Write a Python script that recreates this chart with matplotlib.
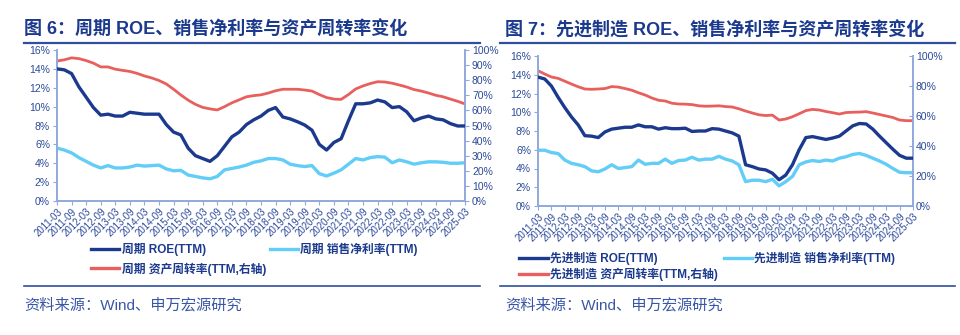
import matplotlib
matplotlib.use("Agg")
import matplotlib.pyplot as plt
from matplotlib.lines import Line2D
from matplotlib.ticker import FuncFormatter, MultipleLocator
import numpy as np
import pandas as pd

plt.rcParams["font.family"] = ["Liberation Sans", "Noto Sans CJK SC"]

# quarterly, 2011-03 .. 2025-03
quarters = pd.period_range("2011Q1", "2025Q1", freq="Q")
tick_labels = [f"{q.year}-{q.quarter * 3:02d}" for q in quarters]

# 周期
cyc_roe = [14.0, 13.9, 13.5, 12.1, 11.0, 9.9, 9.1, 9.2, 9.0, 9.0, 9.4, 9.3, 9.2, 9.2, 9.2,
           8.1, 7.3, 7.0, 5.6, 4.8, 4.5, 4.2, 4.8, 5.8, 6.8, 7.3, 8.1, 8.6, 9.0, 9.6,
           9.9, 8.9, 8.7, 8.4, 8.05, 7.5, 6.0, 5.4, 6.2, 6.6, 8.5, 10.3, 10.3, 10.4, 10.7,
           10.5, 9.9, 10.0, 9.45, 8.5, 8.8, 9.0, 8.7, 8.6, 8.2, 7.95, 7.95]
cyc_margin = [5.6, 5.4, 5.1, 4.6, 4.2, 3.8, 3.5, 3.75, 3.5, 3.5, 3.6, 3.8, 3.7, 3.75, 3.8,
              3.4, 3.2, 3.25, 2.75, 2.6, 2.45, 2.35, 2.6, 3.3, 3.45, 3.6, 3.8, 4.1, 4.25, 4.5,
              4.5, 4.35, 3.9, 3.75, 3.65, 3.75, 2.9, 2.65, 2.95, 3.3, 3.9, 4.5, 4.35, 4.6, 4.7,
              4.65, 4.05, 4.35, 4.15, 3.9, 4.05, 4.15, 4.15, 4.1, 4.0, 4.0, 4.05]
cyc_turnover = [92.7, 93.5, 94.8, 94.3, 93.0, 91.3, 88.8, 88.8, 87.3, 86.5, 85.8, 84.5, 82.8,
                81.5, 79.8, 77.5, 74.0, 70.2, 66.8, 64.0, 62.0, 61.0, 60.3, 62.5, 65.0, 67.0,
                69.0, 69.8, 70.3, 71.5, 73.0, 74.0, 74.0, 74.0, 73.5, 72.8, 70.5, 68.5, 67.5,
                67.3, 70.5, 74.2, 76.2, 77.8, 79.0, 78.8, 78.0, 76.8, 75.5, 73.8, 72.8, 71.5,
                70.0, 69.0, 67.5, 66.0, 64.3]

# 先进制造
adv_roe = [13.75, 13.55, 12.8, 11.6, 10.5, 9.5, 8.65, 7.5, 7.45, 7.3, 7.9, 8.2, 8.3, 8.4, 8.4,
           8.65, 8.45, 8.45, 8.2, 8.35, 8.25, 8.25, 8.3, 7.95, 8.0, 8.0, 8.25, 8.2, 8.0, 7.8,
           7.45, 4.4, 4.2, 3.95, 3.85, 3.5, 2.8, 3.3, 4.4, 6.0, 7.3, 7.4, 7.25, 7.1, 7.25,
           7.45, 8.0, 8.55, 8.8, 8.75, 8.2, 7.45, 6.75, 6.05, 5.4, 5.1, 5.1]
adv_margin = [5.95, 5.95, 5.7, 5.6, 4.9, 4.55, 4.4, 4.2, 3.75, 3.65, 3.95, 4.4, 4.0, 4.1, 4.2,
              4.9, 4.45, 4.55, 4.55, 5.0, 4.55, 4.85, 4.9, 5.2, 4.9, 5.0, 5.0, 5.3, 5.0, 4.8,
              4.4, 2.6, 2.75, 2.75, 2.6, 2.85, 2.15, 2.6, 3.15, 4.4, 4.7, 4.85, 4.75, 4.9, 4.8,
              5.1, 5.25, 5.5, 5.6, 5.4, 5.1, 4.8, 4.45, 4.0, 3.6, 3.55, 3.55]
adv_turnover = [90.2, 88.0, 86.0, 85.1, 83.2, 81.3, 79.5, 78.0, 77.8, 78.0, 78.3, 79.6, 79.3,
                78.3, 77.2, 75.5, 74.0, 72.0, 70.5, 70.0, 68.5, 68.0, 67.9, 67.6, 66.8, 66.5,
                66.6, 66.8, 66.3, 66.0, 64.8, 63.3, 62.0, 60.8, 60.3, 60.6, 57.3, 58.0, 59.5,
                61.5, 63.6, 64.4, 64.0, 63.0, 62.2, 61.3, 62.3, 62.5, 62.6, 62.9, 62.0, 61.0,
                60.0, 59.0, 57.3, 56.9, 56.9]

NAVY = "#1B3A8E"
SKY = "#62CDF7"
RED = "#E8605D"
SPINE = "#8FA9DB"
TEXT = "#2C4A9A"
pct = FuncFormatter(lambda v, _: f"{v:.0f}%")


def draw_panel(fig, rect, name, roe, margin, turnover, right_step, right_tick_dir,
               legend_xy, col_space, row_space):
    x = np.arange(len(tick_labels))
    ax = fig.add_axes(rect)
    ax2 = ax.twinx()
    ax.plot(x, roe, color=NAVY, lw=2.4, zorder=3)
    ax.plot(x, margin, color=SKY, lw=2.4, zorder=2)
    ax2.plot(x, turnover, color=RED, lw=2.0)
    ax.set_zorder(ax2.get_zorder() + 1)
    ax.patch.set_visible(False)

    ax.set_xlim(0, len(x) - 1)
    ax.set_ylim(0, 16)
    ax2.set_ylim(0, 100)
    ax.yaxis.set_major_locator(MultipleLocator(2))
    ax2.yaxis.set_major_locator(MultipleLocator(right_step))
    ax.yaxis.set_major_formatter(pct)
    ax2.yaxis.set_major_formatter(pct)
    ax.set_xticks(x[::2], tick_labels[::2], rotation=45, ha="right", rotation_mode="anchor")

    for a in (ax, ax2):
        for s in a.spines.values():
            s.set_color(SPINE)
            s.set_linewidth(1.2)
        a.spines["top"].set_visible(False)
    ax.tick_params(axis="x", colors=SPINE, labelcolor=TEXT, labelsize=7, length=3, pad=1)
    ax.tick_params(axis="y", colors=SPINE, labelcolor=TEXT, labelsize=7.5, length=3, pad=2)
    ax2.tick_params(axis="y", colors=SPINE, labelcolor=TEXT, labelsize=7.5, length=3, pad=2,
                    direction=right_tick_dir)

    handles = [Line2D([], [], color=NAVY, lw=2.4), Line2D([], [], color=RED, lw=2.4),
               Line2D([], [], color=SKY, lw=2.4)]
    labels = [f"{name} ROE(TTM)", f"{name} 资产周转率(TTM,右轴)", f"{name} 销售净利率(TTM)"]
    leg = fig.legend(handles, labels, ncol=2, loc="upper left", bbox_to_anchor=legend_xy,
                     frameon=False, handlelength=2.4, handletextpad=0.2,
                     columnspacing=col_space, labelspacing=row_space, borderaxespad=0,
                     prop={"size": 8.5, "weight": "bold"})
    for t in leg.get_texts():
        t.set_color(NAVY)
    return ax


fig = plt.figure(figsize=(9.6, 3.35), dpi=100)

draw_panel(fig, [57 / 960, 1 - 201 / 335, 408 / 960, 151 / 335], "周期",
           cyc_roe, cyc_margin, cyc_turnover, 10, "out", (0.090, 0.290), 0.3, 0.55)
draw_panel(fig, [538 / 960, 1 - 206 / 335, 375 / 960, 150 / 335], "先进制造",
           adv_roe, adv_margin, adv_turnover, 20, "in", (0.536, 0.262), 0.5, 0.2)

# titles, rules and source notes
fig.text(24 / 960, 1 - 30 / 335, "图 6：周期 ROE、销售净利率与资产周转率变化",
         fontsize=13, fontweight="bold", color=NAVY, va="center")
fig.text(505 / 960, 1 - 30 / 335, "图 7：先进制造 ROE、销售净利率与资产周转率变化",
         fontsize=13, fontweight="bold", color=NAVY, va="center")
for x0, x1 in [(24, 480), (500, 955)]:
    fig.add_artist(Line2D([x0 / 960, x1 / 960], [1 - 43 / 335] * 2, color="#2E4FA0", lw=1.6))
    fig.add_artist(Line2D([x0 / 960, x1 / 960], [1 - 286 / 335] * 2, color="#2E4FA0", lw=1.2))
fig.text(24 / 960, 1 - 305 / 335, "资料来源：Wind、申万宏源研究", fontsize=11, color="#3A57A7",
         va="center")
fig.text(505 / 960, 1 - 305 / 335, "资料来源：Wind、申万宏源研究", fontsize=11, color="#3A57A7",
         va="center")

fig.savefig("out.png", dpi=100)
